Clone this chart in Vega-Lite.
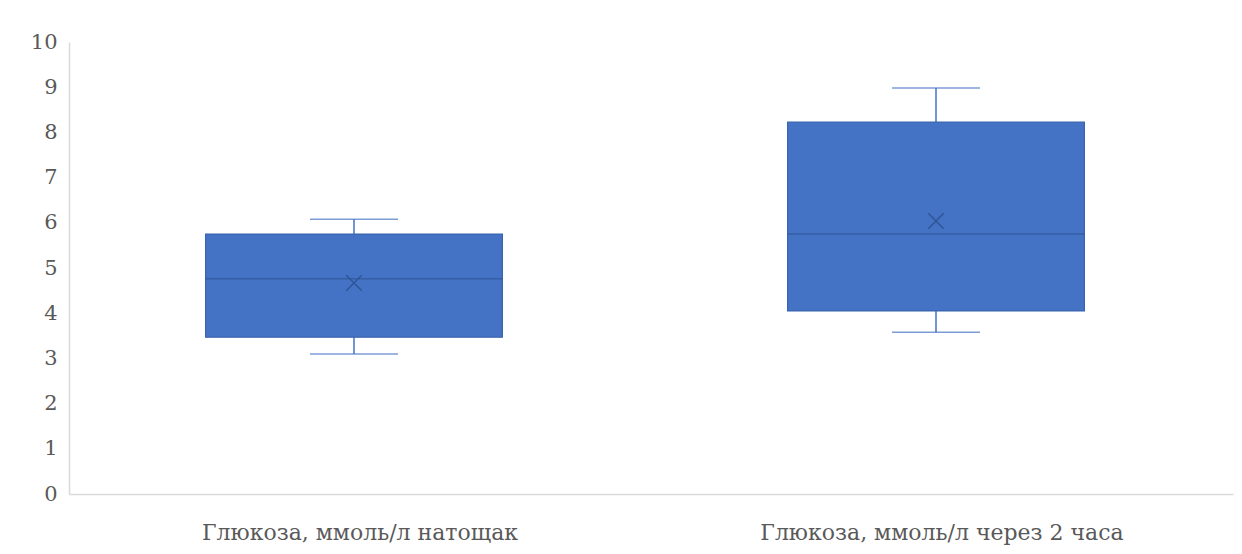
{
  "$schema": "https://vega.github.io/schema/vega-lite/v6.json",
  "autosize": {"type": "none"},
  "width": 1164,
  "height": 452,
  "padding": {"left": 69, "top": 42, "right": 9, "bottom": 60},
  "background": "white",
  "config": {
    "view": {"stroke": null},
    "font": "DejaVu Serif",
    "axis": {"labelFont": "DejaVu Serif", "labelColor": "#595959", "domainColor": "#D9D9D9", "domainWidth": 1.5, "ticks": false, "grid": false, "title": null, "labelLimit": 0},
    "axisY": {"labelFontSize": 21, "labelPadding": 12, "values": [0,1,2,3,4,5,6,7,8,9,10]},
    "axisX": {"labelFontSize": 22, "labelPadding": 45, "labelAngle": 0, "labelBaseline": "alphabetic"}
  },
  "data": {"values": [
    {"cat": "Глюкоза, ммоль/л натощак", "min": 3.1, "q1": 3.47, "median": 4.76, "q3": 5.75, "max": 6.08, "mean": 4.67},
    {"cat": "Глюкоза, ммоль/л через 2 часа", "min": 3.58, "q1": 4.05, "median": 5.75, "q3": 8.23, "max": 8.98, "mean": 6.04}
  ]},
  "encoding": {
    "x": {"field": "cat", "type": "nominal", "sort": null,
      "scale": {"paddingInner": 0, "paddingOuter": 0}}
  },
  "layer": [
    {"mark": {"type": "rule", "color": "#4472C4", "strokeWidth": 1.5, "xOffset": -6},
     "encoding": {"y": {"field": "min", "type": "quantitative", "scale": {"domain": [0, 10], "nice": false}},
       "y2": {"field": "max"}}},
    {"mark": {"type": "tick", "color": "#4472C4", "thickness": 1.5, "size": 88, "orient": "horizontal", "xOffset": -6},
     "encoding": {"y": {"field": "min", "type": "quantitative"}}},
    {"mark": {"type": "tick", "color": "#4472C4", "thickness": 1.5, "size": 88, "orient": "horizontal", "xOffset": -6},
     "encoding": {"y": {"field": "max", "type": "quantitative"}}},
    {"mark": {"type": "bar", "fill": "#4472C4", "stroke": "#3A64AE", "strokeWidth": 1.2, "width": {"band": 0.51}, "xOffset": -6},
     "encoding": {"y": {"field": "q1", "type": "quantitative"}, "y2": {"field": "q3"}}},
    {"mark": {"type": "tick", "color": "#2F5597", "thickness": 1.5, "size": 297, "orient": "horizontal", "xOffset": -6},
     "encoding": {"y": {"field": "median", "type": "quantitative"}}},
    {"mark": {"type": "point", "shape": "M-1,-1L1,1M1,-1L-1,1", "filled": false, "stroke": "#2F5597", "strokeWidth": 1.5, "size": 240, "opacity": 1, "xOffset": -6},
     "encoding": {"y": {"field": "mean", "type": "quantitative"}}}
  ]
}
